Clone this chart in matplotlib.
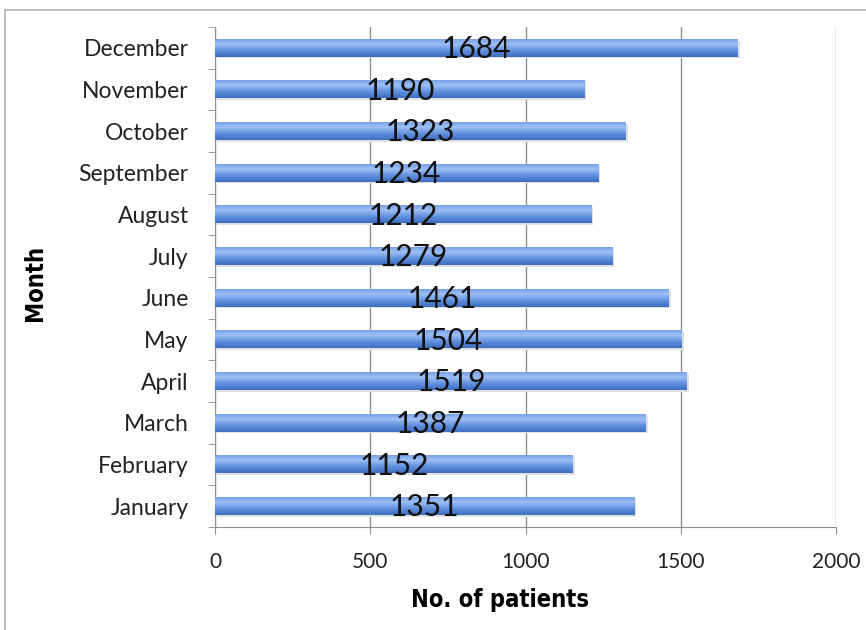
import numpy as np
import matplotlib.pyplot as plt
from matplotlib.colors import LinearSegmentedColormap
from matplotlib.patches import Rectangle

months = ["January", "February", "March", "April", "May", "June",
          "July", "August", "September", "October", "November", "December"]
patients = [1351, 1152, 1387, 1519, 1504, 1461, 1279, 1212, 1234, 1323, 1190, 1684]
xticks = [0, 500, 1000, 1500, 2000]

fig = plt.figure(figsize=(8.66, 6.30), dpi=100)
ax = fig.add_axes([0.2483, 0.1635, 0.7171, 0.7935])

# outer frame of the original figure
fig.patches.append(Rectangle((0.006, -0.1), 1.2, 1.084, transform=fig.transFigure,
                             fill=False, edgecolor="#b0b0b0", lw=1.2))

# bottom -> top of each bar
cmap = LinearSegmentedColormap.from_list(
    "bar", [(0, "#3e6ec2"), (0.35, "#5f8fdc"), (0.72, "#9dbff4"), (1, "#79a2e6")])
grad = np.linspace(0, 1, 60).reshape(-1, 1)
h = 0.42
for i, v in enumerate(patients):
    ax.add_patch(Rectangle((6, i - h / 2 - 0.04), v, h, color="#e0e0e0", lw=0, zorder=2))
    ax.imshow(grad, cmap=cmap, aspect="auto", origin="lower",
              extent=[0, v, i - h / 2, i + h / 2], zorder=3)
    ax.text(v / 2, i - 0.03, str(v), ha="center", va="center", fontsize=21.5,
            family=["Lato", "DejaVu Sans"], color="#111111", zorder=4)

ax.set_xlim(0, 2000)
ax.set_ylim(-0.5, len(months) - 0.5)
ax.set_xticks(xticks)
ax.set_xticklabels([str(t) for t in xticks], family=["Lato", "DejaVu Sans"],
                   fontsize=15, color="#222222")
ax.set_yticks(range(len(months)))
ax.set_yticklabels(months, family=["Lato", "DejaVu Sans"], fontsize=16.5, color="#222222")
ax.set_yticks(np.arange(-0.5, len(months), 1), minor=True)
ax.tick_params(axis="y", which="major", length=0, pad=19)
ax.tick_params(axis="y", which="minor", length=5, color="#909090")
ax.tick_params(axis="x", length=5, color="#909090", pad=13)
ax.grid(axis="x", color="#909090", lw=1.0, zorder=1)
ax.set_axisbelow(True)
for s in ["top", "right"]:
    ax.spines[s].set_visible(False)
for s in ["left", "bottom"]:
    ax.spines[s].set_color("#909090")

ax.set_xlabel("No. of patients", fontsize=17, fontweight="bold", fontstretch="condensed",
              family=["DejaVu Sans"])
ax.xaxis.set_label_coords(0.459, -0.122)
fig.text(0.040, 0.551, "Month", rotation=90, ha="center", va="center", fontsize=17,
         fontweight="bold", fontstretch="condensed", family=["DejaVu Sans"])

fig.savefig("out.png", dpi=100)
